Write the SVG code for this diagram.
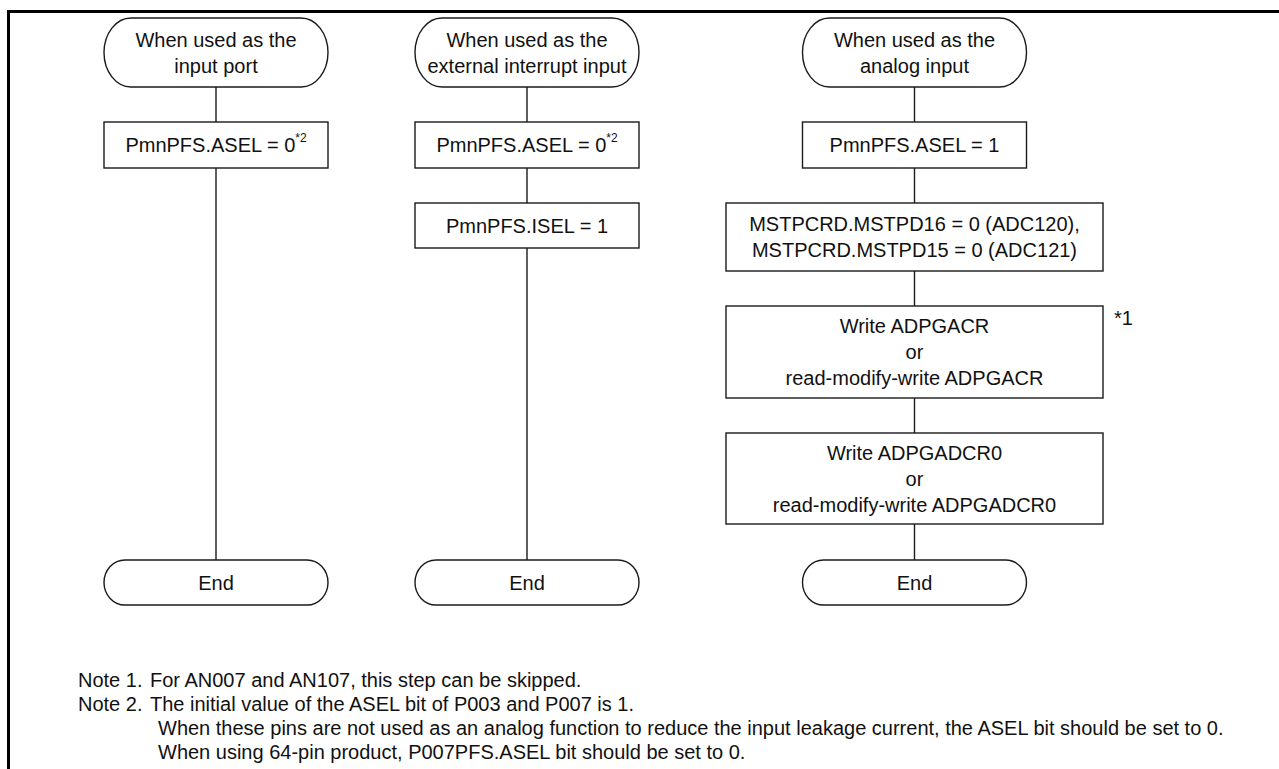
<svg xmlns="http://www.w3.org/2000/svg" width="1279" height="769" viewBox="0 0 1279 769">
<style>
.n{fill:#fff;stroke:#1a1a1a;stroke-width:1.4}
.t{font-family:"Liberation Sans",Arial,sans-serif;font-size:20px;fill:#111;text-anchor:middle}
.s{font-size:12px}
.note{font-family:"Liberation Sans",Arial,sans-serif;font-size:20px;fill:#111}
.c{stroke:#1a1a1a;stroke-width:1.4;fill:none}
</style>
<rect width="1279" height="769" fill="#fff"/>
<path d="M8.5 769 V11.5 H1279" fill="none" stroke="#000" stroke-width="3"/>
<g id="connectors">
<path class="c" d="M216 87V122M216 168V560"/>
<path class="c" d="M527 87V122M527 168V203M527 248V560"/>
<path class="c" d="M914.5 87V122M914.5 168V203M914.5 271V306M914.5 398V433M914.5 524V560"/>
</g>
<g id="start1"><rect class="n" x="104" y="18" width="224" height="69" rx="27" ry="34.5"/><text class="t" x="216" y="47">When used as the</text><text class="t" x="216" y="73">input port</text></g>
<g id="start2"><rect class="n" x="415" y="18" width="224" height="69" rx="27" ry="34.5"/><text class="t" x="527" y="47">When used as the</text><text class="t" x="527" y="73">external interrupt input</text></g>
<g id="start3"><rect class="n" x="802.5" y="18" width="224" height="69" rx="27" ry="34.5"/><text class="t" x="914.5" y="47">When used as the</text><text class="t" x="914.5" y="73">analog input</text></g>
<g id="asel1"><rect class="n" x="104" y="122" width="224" height="46"/><text class="t" x="216" y="152">PmnPFS.ASEL = 0<tspan class="s" dy="-10">*2</tspan></text></g>
<g id="asel2"><rect class="n" x="415" y="122" width="224" height="46"/><text class="t" x="527" y="152">PmnPFS.ASEL = 0<tspan class="s" dy="-10">*2</tspan></text></g>
<g id="isel2"><rect class="n" x="415" y="203" width="224" height="45"/><text class="t" x="527" y="233">PmnPFS.ISEL = 1</text></g>
<g id="asel3"><rect class="n" x="802.5" y="122" width="224" height="46"/><text class="t" x="914.5" y="152">PmnPFS.ASEL = 1</text></g>
<g id="mstp"><rect class="n" x="726" y="203" width="377" height="68"/><text class="t" x="914.5" y="231">MSTPCRD.MSTPD16 = 0 (ADC120),</text><text class="t" x="914.5" y="257">MSTPCRD.MSTPD15 = 0 (ADC121)</text></g>
<g id="pgacr"><rect class="n" x="726" y="306" width="377" height="92"/><text class="t" x="914.5" y="333">Write ADPGACR</text><text class="t" x="914.5" y="359">or</text><text class="t" x="914.5" y="385">read-modify-write ADPGACR</text></g>
<text class="note" x="1114" y="325" font-size="14">*1</text>
<g id="pgadcr"><rect class="n" x="726" y="433" width="377" height="91"/><text class="t" x="914.5" y="460">Write ADPGADCR0</text><text class="t" x="914.5" y="486">or</text><text class="t" x="914.5" y="512">read-modify-write ADPGADCR0</text></g>
<g id="end1"><rect class="n" x="104" y="560" width="224" height="45" rx="21" ry="22.5"/><text class="t" x="216" y="590">End</text></g>
<g id="end2"><rect class="n" x="415" y="560" width="224" height="45" rx="21" ry="22.5"/><text class="t" x="527" y="590">End</text></g>
<g id="end3"><rect class="n" x="802.5" y="560" width="224" height="45" rx="21" ry="22.5"/><text class="t" x="914.5" y="590">End</text></g>
<g id="notes">
<text class="note" x="78" y="687">Note 1.</text><text class="note" x="150" y="687">For AN007 and AN107, this step can be skipped.</text>
<text class="note" x="78" y="711">Note 2.</text><text class="note" x="150" y="711">The initial value of the ASEL bit of P003 and P007 is 1.</text>
<text class="note" x="158" y="735">When these pins are not used as an analog function to reduce the input leakage current, the ASEL bit should be set to 0.</text>
<text class="note" x="158" y="759">When using 64-pin product, P007PFS.ASEL bit should be set to 0.</text>
</g>
</svg>
